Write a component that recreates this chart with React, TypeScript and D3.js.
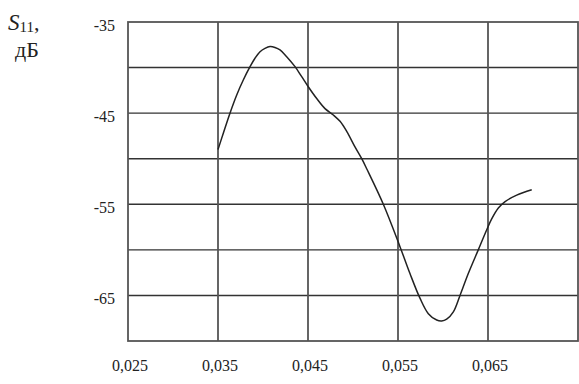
import React from "react";
import * as d3 from "d3";

const freq = [0.035, 0.03559, 0.03633, 0.03708, 0.03781, 0.03856, 0.03911, 0.03967, 0.04022, 0.04078, 0.04133, 0.04189, 0.04263, 0.04356, 0.0443, 0.04503, 0.04597, 0.04689, 0.04781, 0.04856, 0.0493, 0.05022, 0.05097, 0.05152, 0.05337, 0.05522, 0.05633, 0.05744, 0.05837, 0.0593, 0.05986, 0.06041, 0.06115, 0.06189, 0.06281, 0.06392, 0.06486, 0.06541, 0.06615, 0.0669, 0.06819, 0.06986];
const s11 = [-49.0, -47.2, -45.0, -43.0, -41.36, -39.9, -38.98, -38.26, -37.9, -37.7, -37.8, -38.07, -38.8, -39.9, -41.0, -42.1, -43.4, -44.5, -45.2, -45.9, -47.0, -48.7, -50.0, -51.1, -55.0, -59.65, -62.6, -65.3, -67.0, -67.7, -67.8, -67.6, -66.8, -65.0, -62.6, -60.0, -57.8, -56.6, -55.4, -54.7, -54.0, -53.4];

const xTicks = [0.025, 0.035, 0.045, 0.055, 0.065];
const xGrid = [0.035, 0.045, 0.055, 0.065];
const yGrid = [-40, -45, -50, -55, -60, -65];
const yLabels = [-35, -45, -55, -65];

const W = 579;
const H = 384;

export default function App() {
  const x = d3.scaleLinear().domain([0.025, 0.075]).range([128, 578]);
  const y = d3.scaleLinear().domain([-70, -35]).range([341, 22]);
  const pts = freq.map((f, i) => [f, s11[i]] as [number, number]);
  const line = d3
    .line<[number, number]>()
    .x((d) => x(d[0]))
    .y((d) => y(d[1]))
    .curve(d3.curveCatmullRom.alpha(0.5));
  const fmt = (v: number) => v.toFixed(3).replace(".", ",");
  const font = "'Liberation Serif', 'DejaVu Serif', 'Noto Serif', 'Times New Roman', Times, serif";
  return (
    <svg width={W} height={H} style={{ position: "absolute", left: 0, top: 0, background: "#fff", fontFamily: font }}>
      {yGrid.map((v) => (
        <line key={"h" + v} x1={x(0.025)} x2={x(0.075)} y1={y(v)} y2={y(v)} stroke="#333" strokeWidth={1.4} />
      ))}
      {xGrid.map((v) => (
        <line key={"v" + v} x1={x(v)} x2={x(v)} y1={y(-35)} y2={y(-70)} stroke="#555" strokeWidth={1.8} />
      ))}
      <rect x={x(0.025)} y={y(-35)} width={x(0.075) - x(0.025)} height={y(-70) - y(-35)} fill="none" stroke="#555" strokeWidth={1.8} />
      <path d={line(pts) || ""} fill="none" stroke="#222" strokeWidth={1.5} />
      {yLabels.map((v) => (
        <text key={"yl" + v} x={115} y={y(v) + 9} textAnchor="end" fontSize={16} fill="#222">
          {String(v)}
        </text>
      ))}
      {xTicks.map((v) => (
        <text key={"xl" + v} x={x(v) + 2} y={371} textAnchor="middle" fontSize={16} fill="#222">
          {fmt(v)}
        </text>
      ))}
      <text x={8} y={30} fontSize={23} fill="#222">
        <tspan fontStyle="italic">S</tspan>
        <tspan fontSize={15} dy={2}>11</tspan>
        <tspan fontSize={22} dy={-2}>,</tspan>
      </text>
      <text x={15} y={57} fontSize={22} fill="#222">дБ</text>
    </svg>
  );
}
